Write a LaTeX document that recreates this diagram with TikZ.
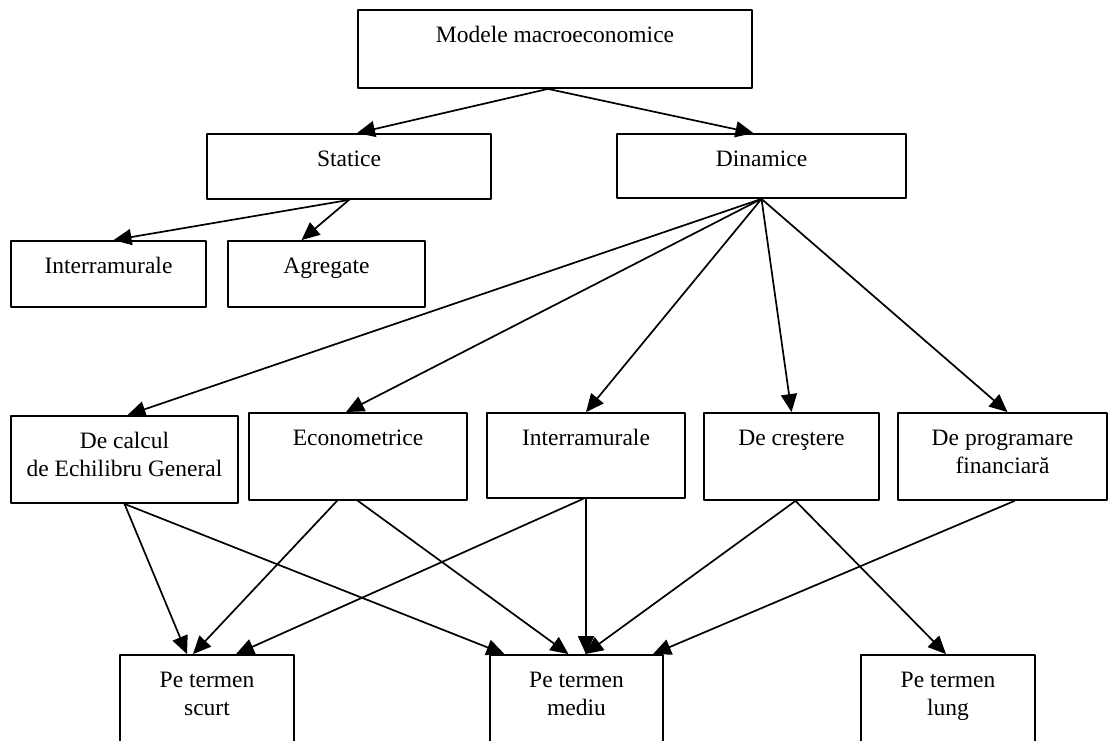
\documentclass[tikz,border=0pt]{standalone}
\usepackage{fontspec}
\setmainfont{Liberation Serif}
\usetikzlibrary{arrows.meta}
\newcommand{\boxtext}[3]{\parbox[c][#2][t]{#1}{\centering\rule{0pt}{32pt}#3}}

\begin{document}
\begin{tikzpicture}[x=1pt,y=-1pt,line cap=round,line join=round,
    font=\fontsize{23.5}{28.2}\selectfont,
    box/.style={draw,line width=1.8pt,inner sep=0pt},
    arr/.style={-{Triangle[length=18pt,width=16pt]},line width=1.7pt}]
    \clip (0,0) rectangle (1108,740);

    % top levels
    \node[box] (model) at (555,49) {\boxtext{394pt}{78pt}{Modele macroeconomice}};
    \node[box] (stat) at (349,166.5) {\boxtext{284pt}{65pt}{Statice}};
    \node[box] (din) at (761.5,166) {\boxtext{289pt}{64pt}{Dinamice}};

    \node[box] (sint) at (108.5,274) {\boxtext{195pt}{66pt}{Interramurale}};
    \node[box] (sagr) at (326.5,274) {\boxtext{197pt}{66pt}{Agregate}};

    % dynamic models
    \node[box] (dcge) at (124.5,459.5) {\boxtext{227pt}{87pt}{De calcul\\de Echilibru General}};
    \node[box] (deco) at (358,456.5) {\boxtext{218pt}{87pt}{Econometrice}};
    \node[box] (dint) at (586,455.5) {\boxtext{198pt}{85pt}{Interramurale}};
    \node[box] (dcre) at (791.5,456.5) {\boxtext{175pt}{87pt}{De creştere}};
    \node[box] (dprg) at (1002.5,456.5) {\boxtext{209pt}{87pt}{De programare\\financiară}};

    % horizons
    \node[box] (bsc) at (207,710) {\boxtext{174pt}{110pt}{Pe termen\\scurt}};
    \node[box] (bmed) at (576.5,710) {\boxtext{173pt}{110pt}{Pe termen\\mediu}};
    \node[box] (blng) at (948,710) {\boxtext{174pt}{110pt}{Pe termen\\lung}};

    \draw[arr] ([xshift=-7pt]model.south) -- ([xshift=8pt]stat.north);
    \draw[arr] ([xshift=-7pt]model.south) -- ([xshift=-8pt]din.north);

    \draw[arr] (stat.south) -- ([xshift=5pt]sint.north);
    \draw[arr] (stat.south) -- ([xshift=-25pt]sagr.north);

    \draw[arr] (din.south) -- ([xshift=3pt]dcge.north);
    \draw[arr] (din.south) -- ([xshift=-12pt]deco.north);
    \draw[arr] (din.south) -- (dint.north);
    \draw[arr] (din.south) -- (dcre.north);
    \draw[arr] (din.south) -- ([xshift=5pt]dprg.north);

    \draw[arr] (dcge.south) -- ([xshift=-20pt]bsc.north);
    \draw[arr] (dcge.south) -- ([xshift=-72pt]bmed.north);
    \draw[arr] ([xshift=-21pt]deco.south) -- ([xshift=-14pt]bsc.north);
    \draw[arr] (deco.south) -- ([xshift=-8pt]bmed.north);
    \draw[arr] ([xshift=-3pt]dint.south) -- ([xshift=29pt]bsc.north);
    \draw[arr] (dint.south) -- ([xshift=9.5pt]bmed.north);
    \draw[arr] ([xshift=4pt]dcre.south) -- ([xshift=8.5pt]bmed.north);
    \draw[arr] ([xshift=4pt]dcre.south) -- ([xshift=-2pt]blng.north);
    \draw[arr] ([xshift=12pt]dprg.south) -- ([xshift=76.5pt]bmed.north);
\end{tikzpicture}
\end{document}
